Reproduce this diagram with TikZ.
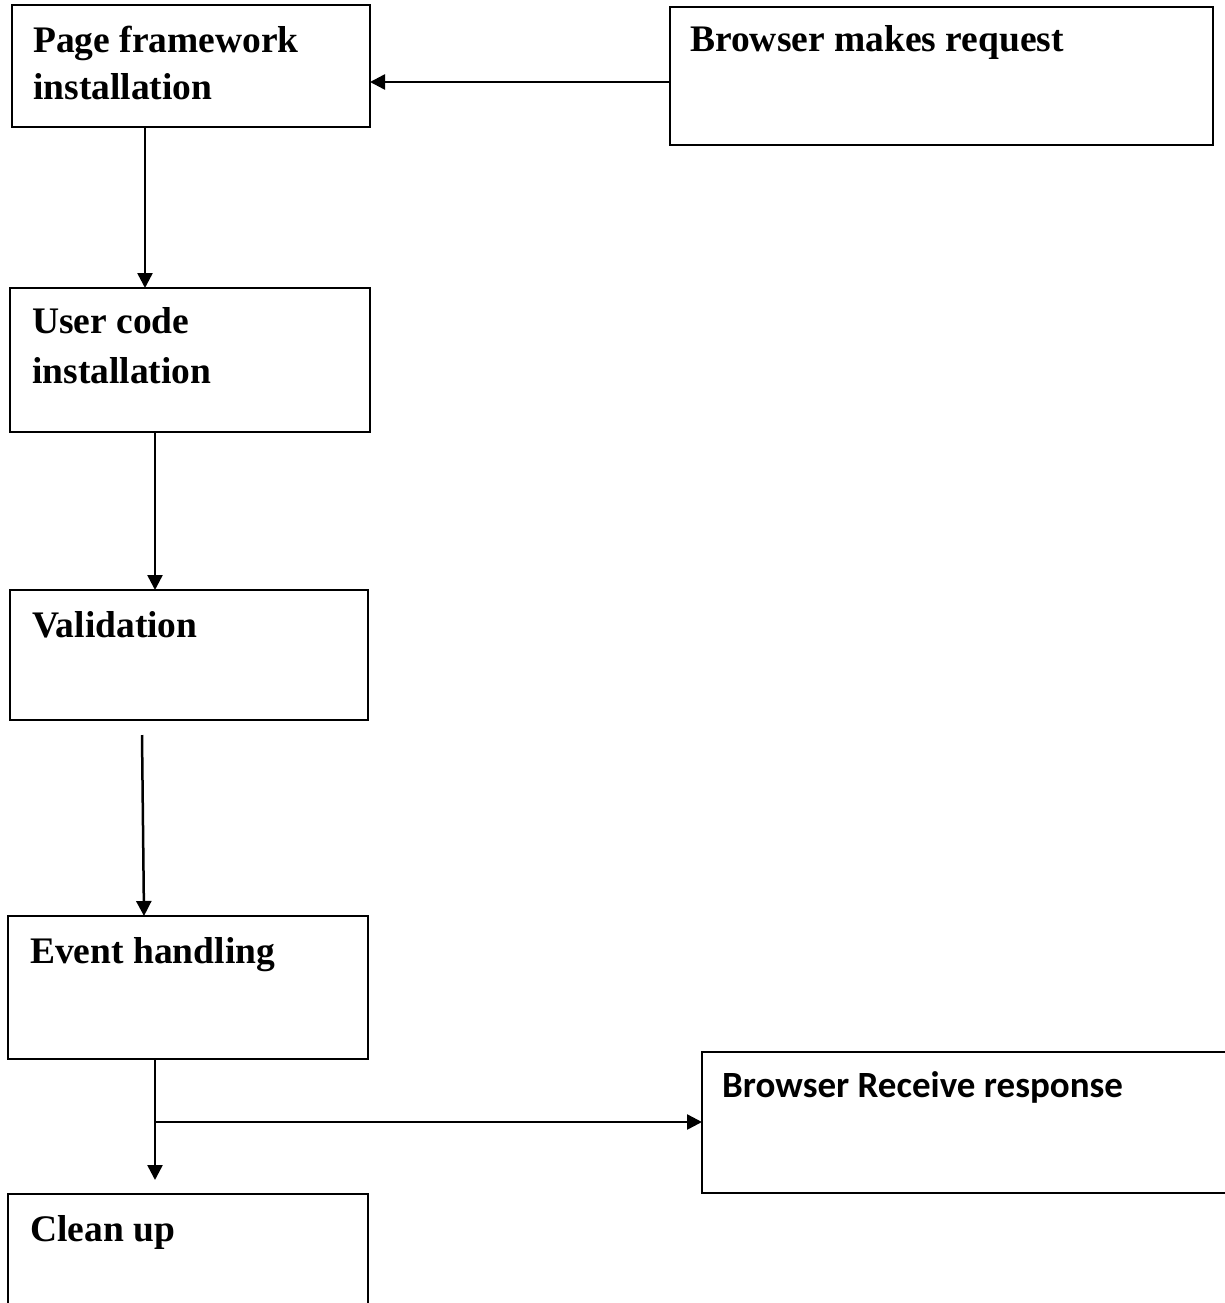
\documentclass[tikz,border=0pt]{standalone}
\usepackage{fontspec}
\setmainfont{Liberation Serif}
\newfontfamily\calib{Carlito}
\usetikzlibrary{arrows.meta}
\begin{document}
\begin{tikzpicture}[x=1pt,y=-1pt,
  box/.style={draw=black, line width=2.5pt},
  lbl/.style={inner sep=0pt, anchor=base west, font=\fontsize{37.5}{47}\selectfont\bfseries},
  lblc/.style={inner sep=0pt, anchor=base west, font=\calib\fontsize{37}{45}\selectfont\bfseries},
  flow/.style={line width=2.5pt, -{Triangle[length=15pt,width=15pt]}}]
\useasboundingbox (0,0) rectangle (1225,1303);

% boxes
\draw[box] (12,5) rectangle (370,127);
\draw[box] (670,7) rectangle (1213,145);
\draw[box] (10,288) rectangle (370,432);
\draw[box] (10,590) rectangle (368,720);
\draw[box] (8,916) rectangle (368,1059);
\draw[box] (1240,1052) -- (702,1052) -- (702,1193) -- (1240,1193);
\draw[box] (8,1340) -- (8,1194) -- (368,1194) -- (368,1340);

% labels
\node[lbl] (page1) at (33,53) {Page framework};
\node[lbl] (page2) at (33,100) {installation};
\node[lbl] (req) at (690,52) {Browser makes request};
\node[lbl] (user1) at (32,333) {User code};
\node[lbl] (user2) at (32,383) {installation};
\node[lbl] (valid) at (32,637) {Validation};
\node[lbl] (event) at (30,963) {Event handling};
\node[lbl] (clean) at (30,1241) {Clean up};
\node[lblc] (resp) at (722,1097) {Browser Receive response};

% connector end points
\coordinate (reqW) at (670,82);
\coordinate (pageE) at (370,82);
\coordinate (pageS) at (145,127);
\coordinate (userN) at (145,288);
\coordinate (userS) at (155,432);
\coordinate (validN) at (155,590);
\coordinate (gapTop) at (142,735);
\coordinate (eventN) at (144,916);
\coordinate (eventS) at (155,1059);
\coordinate (split) at (155,1122);
\coordinate (cleanN) at (155,1180);
\coordinate (respW) at (702,1122);

% connectors
\draw[flow] (reqW) -- (pageE);
\draw[flow] (pageS) -- (userN);
\draw[flow] (userS) -- (validN);
\draw[flow] (gapTop) -- (eventN);
\draw[flow] (eventS) -- (cleanN);
\draw[flow] (split) -- (respW);
\end{tikzpicture}
\end{document}
